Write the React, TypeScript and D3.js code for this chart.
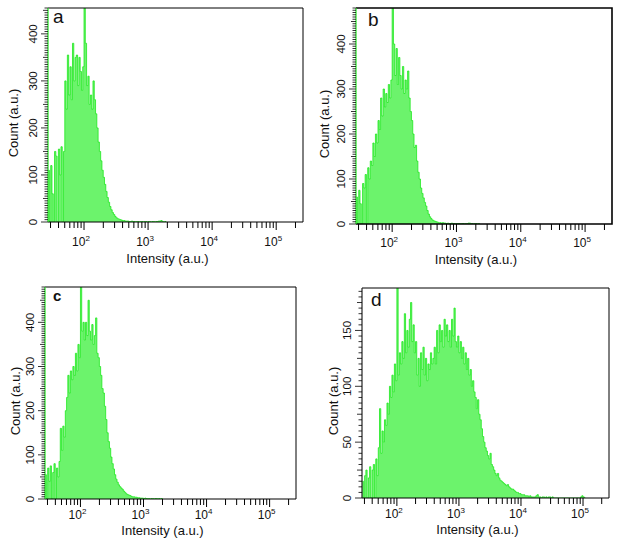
import React, { useEffect, useRef } from 'react'
import * as d3 from 'd3'

// histogram bins: left edge of bin i is 10^(BIN_START_LOG + i * BIN_STEP_LOG)
const BIN_START_LOG = 1.44
const BIN_STEP_LOG = 0.02
const X_MIN = 27.4
const X_MAX = 262144

const countsA = [110, 0, 120, 60, 0, 150, 140, 0, 155, 100, 160, 0, 150, 300, 240, 355, 270, 330, 260, 380,
  300, 350, 355, 290, 350, 320, 280, 330, 470, 380, 290, 310, 250, 270, 240, 300, 260, 230, 200, 170,
  150, 130, 110, 95, 80, 65, 52, 42, 33, 26, 20, 16, 12, 9, 7, 6, 5, 4, 3, 3,
  2, 2, 2, 1, 1, 2, 1, 1, 0, 1, 1, 0, 1, 1, 0, 1, 1, 0, 1, 1,
  0, 1, 1, 0, 1, 1, 2, 2, 3, 1, 0, 1]

const countsB = [60, 0, 75, 45, 0, 90, 80, 110, 0, 125, 100, 140, 130, 180, 150, 200, 180, 230, 210, 280,
  240, 300, 260, 290, 270, 310, 280, 320, 500, 400, 330, 390, 310, 370, 330, 300, 350, 290, 320, 300,
  340, 280, 250, 230, 200, 170, 175, 140, 115, 100, 80, 68, 58, 48, 40, 30, 22, 16, 12, 9,
  7, 6, 5, 4, 3, 3, 2, 3, 2, 2, 1, 2, 1, 1, 2, 1, 1, 0, 1, 1,
  1, 0, 1, 1, 0, 1, 1, 2, 2, 1, 1, 0, 1, 1, 0, 1]

const countsC = [55, 0, 70, 40, 75, 0, 60, 80, 0, 70, 50, 85, 160, 110, 165, 140, 200, 230, 280, 240,
  290, 270, 300, 280, 330, 290, 350, 320, 500, 380, 400, 360, 400, 370, 450, 380, 360, 395, 350, 370,
  410, 330, 320, 300, 280, 250, 240, 210, 180, 150, 130, 115, 95, 80, 68, 55, 45, 38, 32, 28,
  25, 22, 18, 15, 12, 10, 9, 8, 6, 5, 5, 4, 4, 3, 3, 2, 2, 2, 1, 2,
  1, 1, 1, 0, 1, 1, 0, 1, 1, 0, 1, 0, 1]

const countsD = [15, 0, 20, 25, 0, 18, 28, 0, 25, 30, 0, 35, 20, 45, 80, 40, 60, 50, 70, 65,
  85, 75, 100, 90, 110, 95, 120, 105, 195, 110, 130, 120, 140, 125, 165, 130, 150, 135, 160, 175,
  140, 155, 130, 140, 110, 125, 100, 130, 115, 135, 110, 125, 105, 120, 115, 130, 120, 125, 135, 120,
  150, 130, 155, 140, 150, 135, 160, 145, 155, 140, 150, 135, 160, 145, 170, 140, 135, 145, 130, 140,
  125, 135, 120, 130, 115, 125, 110, 115, 100, 105, 95, 90, 80, 88, 75, 70, 62, 55, 50, 45,
  42, 38, 35, 40, 30, 28, 25, 22, 20, 22, 18, 16, 15, 14, 13, 12, 11, 12, 10, 9,
  8, 8, 7, 6, 5, 5, 4, 4, 3, 3, 3, 2, 2, 2, 1, 2, 1, 1, 1, 1,
  2, 3, 1, 1, 0, 1, 1, 0, 1, 0, 1, 1, 0, 1, 0, 0, 0, 0, 0, 0,
  0, 0, 0, 0, 0, 0, 0, 0, 0, 0, 0, 0, 0, 0, 0, 0, 1, 2, 1, 0]

const yTicksABC = [0, 100, 200, 300, 400]
const yTicksD = [0, 50, 100, 150]
const xTickExps = [2, 3, 4, 5]

const panels = [
  { id: 'a', counts: countsA, yMax: 455, yTicks: yTicksABC, major: 100, l: 48, r: 303, t: 8, b: 222, frameW: 1,
    letter: { x: 53, y: 23, size: 19, weight: 'normal' }, countX: 13, tickBase: 24, titleBase: 41, leftGreen: true },
  { id: 'b', counts: countsB, yMax: 480, yTicks: yTicksABC, major: 100, l: 356, r: 612, t: 8, b: 224, frameW: 1.6,
    letter: { x: 368, y: 26, size: 19, weight: 'normal' }, countX: 324, tickBase: 23, titleBase: 40, leftGreen: true },
  { id: 'c', counts: countsC, yMax: 480, yTicks: yTicksABC, major: 100, l: 45, r: 296, t: 287, b: 499, frameW: 1,
    letter: { x: 53, y: 301, size: 15, weight: 'bold' }, countX: 15, tickBase: 20, titleBase: 36, leftGreen: true },
  { id: 'd', counts: countsD, yMax: 188, yTicks: yTicksD, major: 50, l: 362, r: 609, t: 288, b: 498, frameW: 1,
    letter: { x: 371, y: 306, size: 19, weight: 'normal' }, countX: 333, tickBase: 20, titleBase: 36, leftGreen: false },
]

const FONT = '"Liberation Sans", Arial, sans-serif'
const FILL = '#6cf36c'
const STROKE = '#1fe81f'

export default function App() {
  const ref = useRef<SVGSVGElement>(null)

  useEffect(() => {
    if (!ref.current) return
    const svg = d3.select(ref.current)
    svg.selectAll('*').remove()
    svg.append('rect').attr('width', 621).attr('height', 544).attr('fill', '#fff')

    panels.forEach(p => {
      const g = svg.append('g')
      const x = d3.scaleLog().domain([X_MIN, X_MAX]).range([p.l, p.r])
      const y = d3.scaleLinear().domain([0, p.yMax]).range([p.b, p.t])

      const clipId = `clip-${p.id}`
      svg.append('clipPath').attr('id', clipId)
        .append('rect').attr('x', p.l).attr('y', p.t).attr('width', p.r - p.l).attr('height', p.b - p.t)

      const pts: [number, number][] = p.counts.map((c, i) => [Math.pow(10, BIN_START_LOG + i * BIN_STEP_LOG), c])
      pts.push([Math.pow(10, BIN_START_LOG + p.counts.length * BIN_STEP_LOG), 0])

      const area = d3.area<[number, number]>()
        .x(d => x(d[0])).y0(p.b).y1(d => y(d[1])).curve(d3.curveStepAfter)
      const line = d3.line<[number, number]>()
        .x(d => x(d[0])).y(d => y(d[1])).curve(d3.curveStepAfter)

      const hg = g.append('g').attr('clip-path', `url(#${clipId})`)
      hg.append('path').attr('d', area(pts)).attr('fill', FILL)
      hg.append('path').attr('d', line(pts)).attr('fill', 'none').attr('stroke', STROKE).attr('stroke-width', 0.8)

      // frame
      g.append('path')
        .attr('d', `M${p.l},${p.t}H${p.r}V${p.b}H${p.l}`)
        .attr('fill', 'none').attr('stroke', '#000').attr('stroke-width', p.frameW)
      g.append('line').attr('x1', p.l).attr('x2', p.l).attr('y1', p.t).attr('y2', p.b)
        .attr('stroke', p.leftGreen ? STROKE : '#222').attr('stroke-width', 1.2)

      // x ticks (decades with 2..9 minors)
      const xt: { v: number, major: boolean }[] = []
      for (let e = 1; e <= 5; e++) {
        for (let k = 1; k <= 9; k++) {
          const v = k * Math.pow(10, e)
          if (v >= X_MIN && v <= X_MAX) xt.push({ v, major: k === 1 })
        }
      }
      g.selectAll('line.xt').data(xt).enter().append('line')
        .attr('x1', d => x(d.v)).attr('x2', d => x(d.v))
        .attr('y1', p.b).attr('y2', d => p.b + (d.major ? 8 : 6))
        .attr('stroke', '#000').attr('stroke-width', 1)

      const xl = g.selectAll('text.xl').data(xTickExps).enter().append('text')
        .attr('x', e => x(Math.pow(10, e)) - 3)
        .attr('y', p.b + p.tickBase)
        .attr('text-anchor', 'middle')
        .attr('font-family', FONT).attr('font-size', 12).attr('fill', '#111')
      xl.append('tspan').text('10')
      xl.append('tspan').attr('dy', -5).attr('font-size', 8).text(e => String(e))

      // y ticks every 5 counts
      const yt = d3.range(0, p.yMax + 0.01, 5)
      g.selectAll('line.yt').data(yt).enter().append('line')
        .attr('x1', p.l).attr('x2', v => p.l - (v % p.major === 0 ? 7 : v % (p.major / 2) === 0 ? 5 : 3.5))
        .attr('y1', v => y(v)).attr('y2', v => y(v))
        .attr('stroke', '#000').attr('stroke-width', 0.8)

      g.selectAll('text.yl').data(p.yTicks).enter().append('text')
        .attr('transform', v => `translate(${p.l - 15},${y(v)}) rotate(-90)`)
        .attr('dy', '0.36em')
        .attr('text-anchor', 'middle')
        .attr('font-family', FONT).attr('font-size', 11.5).attr('fill', '#111')
        .text(v => String(v))

      // axis titles
      g.append('text')
        .attr('x', (p.l + p.r) / 2 - 8).attr('y', p.b + p.titleBase)
        .attr('text-anchor', 'middle')
        .attr('font-family', FONT).attr('font-size', 13).attr('fill', '#111')
        .text('Intensity (a.u.)')
      g.append('text')
        .attr('transform', `translate(${p.countX},${(p.t + p.b) / 2 + 8}) rotate(-90)`)
        .attr('dy', '0.36em')
        .attr('text-anchor', 'middle')
        .attr('font-family', FONT).attr('font-size', 13).attr('fill', '#111')
        .text('Count (a.u.)')

      g.append('text')
        .attr('x', p.letter.x).attr('y', p.letter.y)
        .attr('font-family', FONT).attr('font-size', p.letter.size)
        .attr('font-weight', p.letter.weight).attr('fill', '#111')
        .text(p.id)
    })
  }, [])

  return <svg ref={ref} width={621} height={544} style={{ position: 'absolute', left: 0, top: 0 }} />
}
